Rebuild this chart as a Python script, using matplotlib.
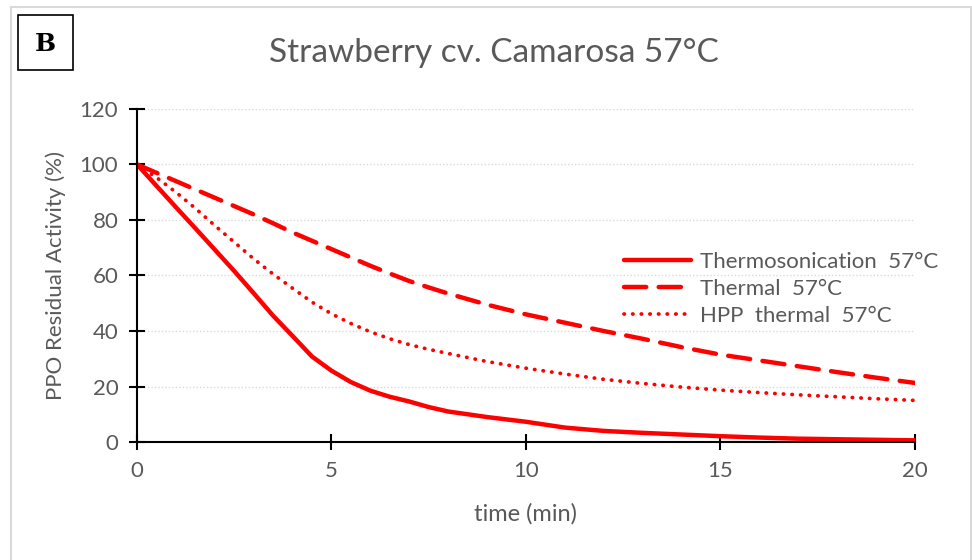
import matplotlib.pyplot as plt
from matplotlib.patches import Rectangle

plt.rcParams['font.family'] = ['Lato', 'DejaVu Sans']

time_min = [0, 0.5, 1, 1.5, 2, 2.5, 3, 3.5, 4, 4.5, 5, 5.5, 6, 6.5, 7, 7.5, 8, 9, 10, 11, 12, 13, 14, 15, 16, 17, 18, 19, 20]
thermosonication = [100, 92.3, 84.6, 77, 69.3, 61.6, 53.6, 45.5, 38.2, 30.8, 25.7, 21.6, 18.5, 16.3, 14.6, 12.6, 11, 9, 7.3, 5.2, 4, 3.3, 2.7, 2.1, 1.6, 1.2, 1.0, 0.8, 0.6]
thermal = [100, 97, 94, 91, 88, 85, 82, 78.8, 75.5, 72.5, 69.5, 66.5, 63.5, 60.7, 58, 55.7, 53.5, 49.5, 46, 43, 40, 37.2, 34.2, 31.5, 29.4, 27.3, 25.2, 23.2, 21.3]
hpp_thermal = [100, 95.3, 90, 84.2, 78, 72, 66, 60.5, 55.4, 50.4, 46.2, 42.7, 39.7, 37.2, 35.1, 33.4, 31.9, 29, 26.6, 24.5, 22.6, 21.1, 19.8, 18.7, 17.8, 17, 16.3, 15.6, 15]

labels = ['Thermosonication  57°C', 'Thermal  57°C', 'HPP  thermal  57°C']
grey = '#595959'
red = '#ff0000'

fig = plt.figure(figsize=(9.72, 5.6), dpi=100)
ax = fig.add_axes([0.141, 0.2107, 0.8, 0.5947])

ax.plot(time_min, thermosonication, color=red, lw=3.2, solid_capstyle='round',
        solid_joinstyle='round', label=labels[0])
ax.plot(time_min, thermal, color=red, lw=3.2, linestyle=(0, (5, 2.8)), dash_capstyle='round', label=labels[1])
ax.plot(time_min, hpp_thermal, color=red, lw=2.7, linestyle=(0, (0.1, 2.2)), dash_capstyle='round', label=labels[2])

ax.set_xlim(0, 20)
ax.set_ylim(0, 120)
ax.set_xticks([0, 5, 10, 15, 20])
ax.set_yticks(range(0, 121, 20))
ax.yaxis.grid(True, color='#d9d9d9', linestyle=(0, (1, 1.5)), lw=1)
ax.set_axisbelow(True)

for side in ['top', 'right']:
    ax.spines[side].set_visible(False)
for side in ['left', 'bottom']:
    ax.spines[side].set_color('black')
    ax.spines[side].set_linewidth(1.5)
ax.tick_params(direction='inout', length=11, width=1.5, colors='black',
               labelcolor=grey, labelsize=16, pad=8)

ax.set_title('Strawberry cv. Camarosa 57°C', color=grey, fontsize=24, pad=34, x=0.459)
ax.set_xlabel('time (min)', color=grey, fontsize=17, labelpad=16)
ax.set_ylabel('PPO Residual Activity (%)', color=grey, fontsize=16, labelpad=10)

leg = ax.legend(loc='upper left', bbox_to_anchor=(0.6, 0.63), frameon=False,
                fontsize=16, handlelength=3.05, handletextpad=0.4, labelspacing=0.3,
                labelcolor=grey)

# outer border and panel label box
fig.patches.append(Rectangle((0.011, -0.01), 0.988, 0.997, transform=fig.transFigure,
                             fill=False, edgecolor='#d9d9d9', lw=1.5))
fig.patches.append(Rectangle((18 / 972, 1 - 70 / 560), 55 / 972, 55 / 560, transform=fig.transFigure,
                             fill=False, edgecolor='black', lw=1.2))
fig.text(45.5 / 972, 1 - 44 / 560, 'B', family='DejaVu Serif', fontweight='bold',
         fontsize=18, ha='center', va='center', color='black')

fig.savefig('out.png', dpi=100)
